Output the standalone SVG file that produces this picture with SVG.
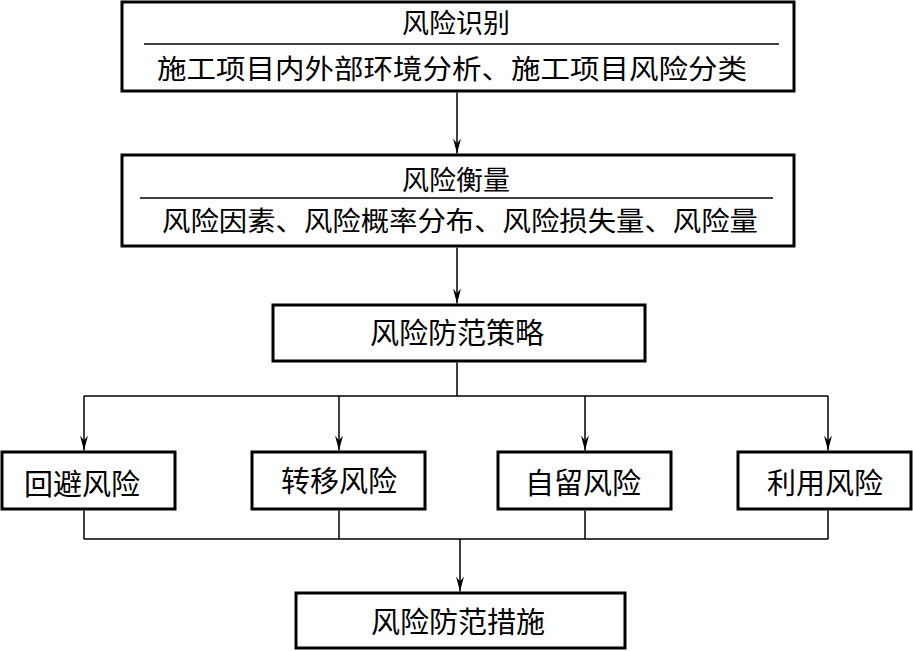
<svg xmlns="http://www.w3.org/2000/svg" width="913" height="651" viewBox="0 0 913 651">
<defs>
<marker id="arr" markerWidth="16" markerHeight="10" refX="15" refY="5" orient="auto" markerUnits="userSpaceOnUse" viewBox="0 0 16 10">
<path d="M0,1 L15,5 L0,9 L5,5 Z" fill="#000"/>
</marker>
</defs>
<style>
.box{fill:#fff;stroke:#000;stroke-width:3}
.div{stroke:#000;stroke-width:1.5}
.ln{fill:none;stroke:#000;stroke-width:1.5}
text{font-family:"Noto Sans CJK SC","Noto Sans CJK JP",sans-serif;fill:#000;text-anchor:middle;font-weight:400}
.t28{font-size:27px}
.t30{font-size:29px}
</style>
<rect width="913" height="651" fill="#fff"/>
<g id="identify">
<rect class="box" x="122" y="2" width="672" height="89"/>
<line class="div" x1="144" y1="44" x2="779" y2="44"/>
<text class="t28" x="456" y="33">风险识别</text>
<text class="t28" x="452" y="79" textLength="590" lengthAdjust="spacingAndGlyphs">施工项目内外部环境分析、施工项目风险分类</text>
</g>
<g id="measure">
<rect class="box" x="122" y="155" width="672" height="91"/>
<line class="div" x1="140" y1="198" x2="773" y2="198"/>
<text class="t28" x="456" y="190">风险衡量</text>
<text class="t28" x="460" y="231" textLength="596" lengthAdjust="spacingAndGlyphs">风险因素、风险概率分布、风险损失量、风险量</text>
</g>
<g id="strategy">
<rect class="box" x="273" y="305" width="372" height="56"/>
<text class="t30" x="457" y="344">风险防范策略</text>
</g>
<g id="avoid">
<rect class="box" x="2" y="452" width="173" height="57"/>
<text class="t30" x="82" y="495">回避风险</text>
</g>
<g id="transfer">
<rect class="box" x="252" y="452" width="173" height="57"/>
<text class="t30" x="339" y="492">转移风险</text>
</g>
<g id="retain">
<rect class="box" x="498" y="452" width="173" height="57"/>
<text class="t30" x="583" y="494">自留风险</text>
</g>
<g id="utilize">
<rect class="box" x="738" y="452" width="173" height="57"/>
<text class="t30" x="825" y="494">利用风险</text>
</g>
<g id="measures">
<rect class="box" x="296" y="593" width="329" height="55"/>
<text class="t30" x="458" y="633">风险防范措施</text>
</g>
<g id="connectors">
<line class="ln" x1="457" y1="92.5" x2="457" y2="153.5" marker-end="url(#arr)"/>
<line class="ln" x1="457" y1="247.5" x2="457" y2="303.5" marker-end="url(#arr)"/>
<path class="ln" d="M457,362.5 V396 M84,396 H828"/>
<line class="ln" x1="84" y1="396" x2="84" y2="450.5" marker-end="url(#arr)"/>
<line class="ln" x1="339" y1="396" x2="339" y2="450.5" marker-end="url(#arr)"/>
<line class="ln" x1="585" y1="396" x2="585" y2="450.5" marker-end="url(#arr)"/>
<line class="ln" x1="828" y1="396" x2="828" y2="450.5" marker-end="url(#arr)"/>
<path class="ln" d="M84,510.5 V539 M339,510.5 V539 M585,510.5 V539 M828,510.5 V539 M84,539 H828"/>
<line class="ln" x1="460" y1="539" x2="460" y2="591.5" marker-end="url(#arr)"/>
</g>
</svg>
